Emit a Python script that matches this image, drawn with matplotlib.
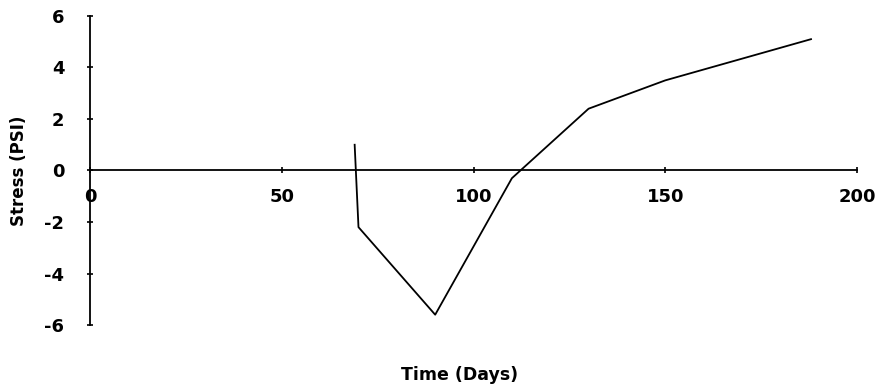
import matplotlib.pyplot as plt

# stress history
days = [69, 70, 90, 110, 130, 150, 188]
stress = [1.0, -2.2, -5.6, -0.3, 2.4, 3.5, 5.1]

x_ticks = [0, 50, 100, 150, 200]
y_ticks = [-6, -4, -2, 0, 2, 4, 6]

plt.rcParams['font.family'] = ['DejaVu Sans']
plt.rcParams['font.weight'] = 'bold'
plt.rcParams['axes.unicode_minus'] = False

fig = plt.figure(figsize=(8.81, 3.89), dpi=100)
ax = fig.add_axes([0.1022, 0.1645, 0.8706, 0.7944])

ax.plot(days, stress, color='black', lw=1.3)

ax.set_xlim(0, 200)
ax.set_ylim(-6, 6)
ax.set_xticks(x_ticks)
ax.set_yticks(y_ticks)

# axes cross at the origin
ax.spines['left'].set_position(('data', 0))
ax.spines['bottom'].set_position(('data', 0))
ax.spines['top'].set_visible(False)
ax.spines['right'].set_visible(False)
for s in ['left', 'bottom']:
    ax.spines[s].set_linewidth(1.3)

ax.tick_params(axis='x', direction='inout', length=5, width=1.2, pad=10, labelsize=13)
ax.tick_params(axis='y', direction='inout', length=5, width=1.2, pad=16, labelsize=13)

fig.text(0.522, 0.035, 'Time (Days)', ha='center', va='center', fontsize=12.5, fontweight='bold')
fig.text(0.022, 0.56, 'Stress (PSI)', ha='center', va='center', rotation=90, fontsize=12, fontweight='bold')

fig.savefig('out.png', dpi=100)
